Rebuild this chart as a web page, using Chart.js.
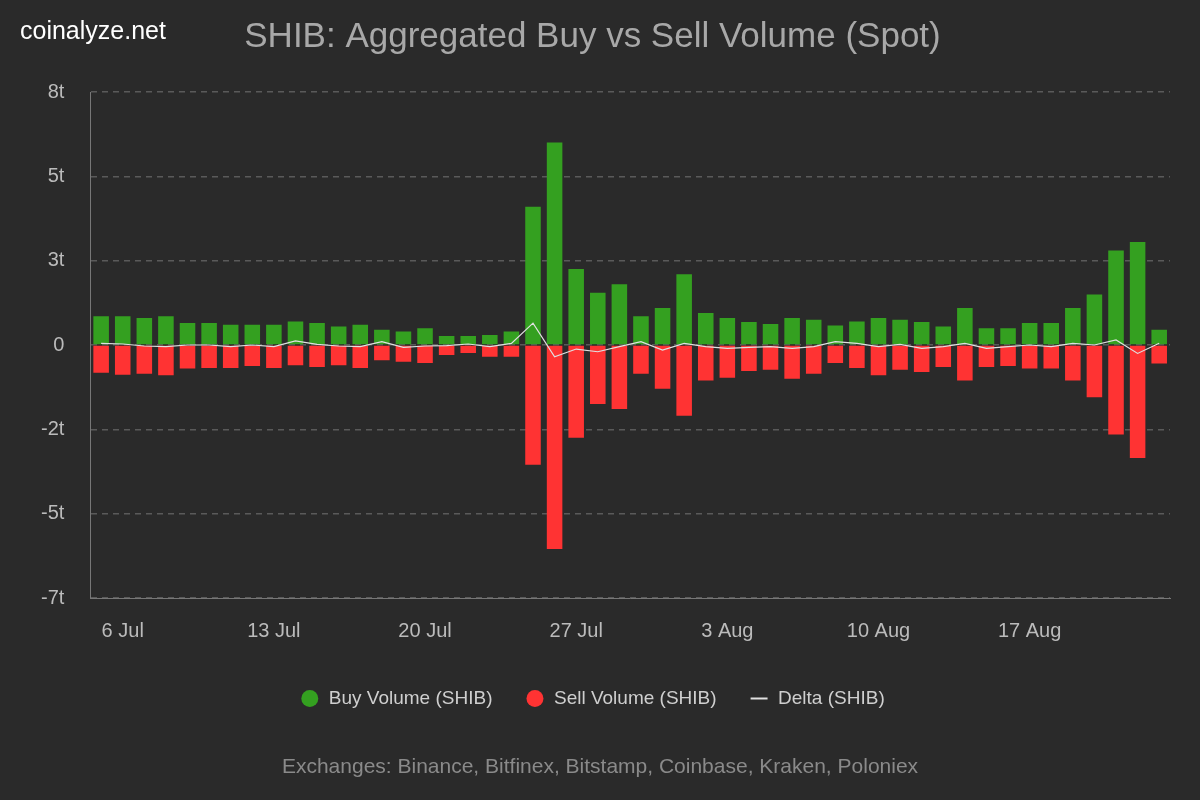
<!DOCTYPE html>
<html>
<head>
<meta charset="utf-8">
<script src="https://cdn.jsdelivr.net/npm/chart.js@4/dist/chart.umd.min.js"></script>
<style>
  body { margin: 0; background: #2a2a2a; font-family: Arial, "Liberation Sans", sans-serif; }
  #wrap { position: relative; width: 1200px; height: 800px; }
  #brand { position: absolute; left: 20px; top: 16px; color: #fff; font-size: 25px; }
  #footer { position: absolute; left: 0; width: 1200px; top: 754px; text-align: center; color: #8a8a8a; font-size: 21px; }
</style>
</head>
<body>
<div id="wrap">
  <canvas id="chart" width="1200" height="800"></canvas>
  <div id="brand">coinalyze.net</div>
  <div id="footer">Exchanges: Binance, Bitfinex, Bitstamp, Coinbase, Kraken, Poloniex</div>
</div>
<script>
document.addEventListener("DOMContentLoaded", function() {
    const dias = ['5 Jul','6 Jul','7 Jul','8 Jul','9 Jul','10 Jul','11 Jul','12 Jul','13 Jul','14 Jul',
        '15 Jul','16 Jul','17 Jul','18 Jul','19 Jul','20 Jul','21 Jul','22 Jul','23 Jul','24 Jul',
        '25 Jul','26 Jul','27 Jul','28 Jul','29 Jul','30 Jul','31 Jul','1 Aug','2 Aug','3 Aug',
        '4 Aug','5 Aug','6 Aug','7 Aug','8 Aug','9 Aug','10 Aug','11 Aug','12 Aug','13 Aug',
        '14 Aug','15 Aug','16 Aug','17 Aug','18 Aug','19 Aug','20 Aug','21 Aug','22 Aug','23 Aug']
    const etiquetasVisibles = ['6 Jul','13 Jul','20 Jul','27 Jul','3 Aug','10 Aug','17 Aug']

    const compras = [0.85,0.85,0.8,0.85,0.65,0.65,0.6,0.6,0.6,0.7,
        0.65,0.55,0.6,0.45,0.4,0.5,0.27,0.27,0.3,0.4,
        4.1,6.0,2.25,1.55,1.8,0.85,1.1,2.1,0.95,0.8,
        0.68,0.62,0.8,0.75,0.58,0.7,0.8,0.75,0.68,0.55,
        1.1,0.5,0.5,0.65,0.65,1.1,1.5,2.8,3.05,0.45]
    const ventas = [-0.82,-0.88,-0.85,-0.9,-0.7,-0.68,-0.68,-0.62,-0.68,-0.6,
        -0.65,-0.6,-0.68,-0.45,-0.5,-0.53,-0.3,-0.24,-0.35,-0.35,
        -3.55,-6.05,-2.75,-1.75,-1.9,-0.85,-1.3,-2.1,-1.05,-0.97,
        -0.77,-0.73,-1.0,-0.85,-0.53,-0.68,-0.9,-0.73,-0.8,-0.65,
        -1.05,-0.65,-0.62,-0.7,-0.7,-1.05,-1.55,-2.65,-3.35,-0.55]
    const delta = [0.05,0.03,-0.03,-0.05,0.0,0.0,-0.05,0.0,-0.05,0.12,
        0.02,-0.03,-0.05,0.1,-0.07,-0.03,-0.02,0.03,-0.05,0.05,
        0.65,-0.35,-0.12,-0.2,-0.05,0.1,-0.15,0.05,-0.05,-0.1,
        -0.07,-0.05,-0.1,-0.05,0.1,0.05,-0.05,0.02,-0.1,-0.05,
        0.05,-0.1,-0.05,0.0,-0.05,0.05,0.0,0.15,-0.25,0.05]

    const verde = '#34a020'
    const rojo = '#ff3333'

    new Chart(document.getElementById('chart').getContext('2d'), {
        data: {
            labels: dias,
            datasets: [
                { type: 'bar', label: 'Buy Volume (SHIB)', data: compras, backgroundColor: verde, stack: 'v',
                  barPercentage: 0.72, categoryPercentage: 1, order: 2 },
                { type: 'bar', label: 'Sell Volume (SHIB)', data: ventas, backgroundColor: rojo, stack: 'v',
                  barPercentage: 0.72, categoryPercentage: 1, order: 2 },
                { type: 'line', label: 'Delta (SHIB)', data: delta, borderColor: '#e0e0e0', borderWidth: 1.2,
                  pointRadius: 0, stack: 'd', order: 1, tension: 0 }
            ]
        },
        options: {
            responsive: false,
            animation: false,
            layout: { padding: { left: 15, right: 30, top: 0, bottom: 82 } },
            plugins: {
                title: {
                    display: true,
                    text: 'SHIB: Aggregated Buy vs Sell Volume (Spot)',
                    color: '#a8a8a8',
                    font: { size: 35, weight: 'normal', family: 'Arial, Liberation Sans' },
                    padding: { top: 16, bottom: 34 }
                },
                legend: {
                    position: 'bottom',
                    labels: {
                        color: '#cfcfcf',
                        font: { size: 19, family: 'Arial, Liberation Sans' },
                        usePointStyle: true,
                        boxWidth: 20,
                        boxHeight: 12,
                        padding: 33,
                        generateLabels: function(chart) {
                            const estilos = ['circle', 'circle', 'line']
                            const colores = [verde, rojo, '#e0e0e0']
                            return chart.data.datasets.map((ds, i) => ({
                                text: ds.label, datasetIndex: i, pointStyle: estilos[i],
                                fillStyle: colores[i], strokeStyle: colores[i], lineWidth: i === 2 ? 2 : 0,
                                fontColor: '#cfcfcf'
                            }))
                        }
                    }
                },
                tooltip: { enabled: false }
            },
            scales: {
                x: {
                    stacked: true,
                    grid: { display: false },
                    border: { color: '#777' },
                    ticks: {
                        color: '#bbb',
                        font: { size: 20, family: 'Arial, Liberation Sans' },
                        autoSkip: false,
                        maxRotation: 0,
                        padding: 13,
                        callback: function(v) {
                            const l = this.getLabelForValue(v)
                            return etiquetasVisibles.includes(l) ? l : ''
                        }
                    }
                },
                y: {
                    stacked: true,
                    min: -7.5,
                    max: 7.5,
                    grid: { color: '#5a5a5a', lineWidth: 1.5, drawTicks: false },
                    border: { color: '#777', dash: [6, 5] },
                    ticks: {
                        stepSize: 2.5,
                        color: '#bbb',
                        padding: 26,
                        font: { size: 20, family: 'Arial, Liberation Sans' },
                        callback: v => v === 0 ? '0' : Math.round(v) + 't'
                    }
                }
            }
        }
    })
})
</script>
</body>
</html>
